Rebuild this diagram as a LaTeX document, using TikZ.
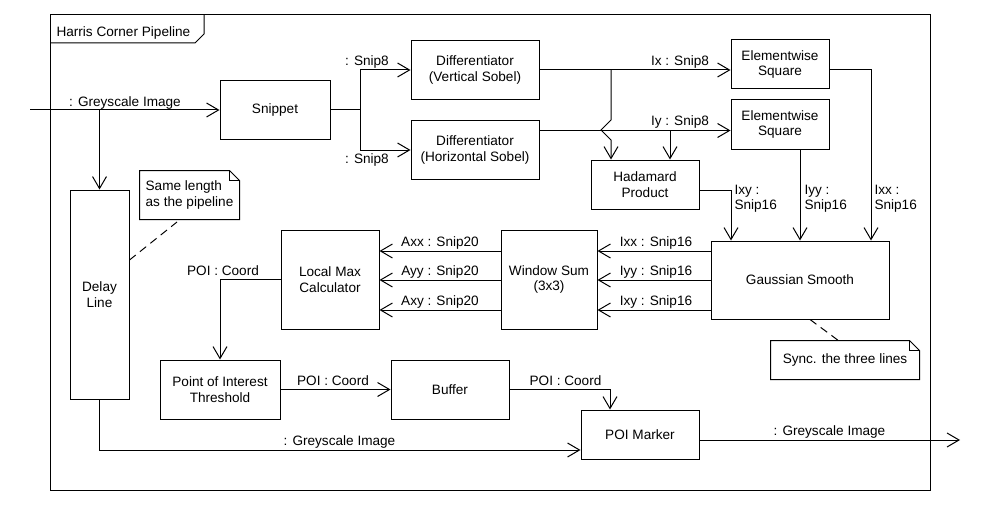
\documentclass[tikz,border=0pt]{standalone}
\usepackage{fontspec}
\setmainfont{Liberation Sans}
\usetikzlibrary{arrows.meta}

\def\px{0.75pt}
\newcommand{\dogear}[1]{%
  \draw (#1.north west) -- ([xshift=-7.5pt]#1.north east) -- ([yshift=-7.5pt]#1.north east)
    -- (#1.south east) -- (#1.south west) -- cycle;
  \draw ([xshift=-7.5pt]#1.north east) |- ([yshift=-7.5pt]#1.north east);}

\tikzset{
  block/.style={draw, align=center},
  memo/.style={align=left},
  lbl/.style={inner sep=0pt, anchor=base},
  lbltwo/.style={inner sep=0pt, anchor=north west, align=left},
  flow/.style={-{Straight Barb[length=9pt,width=10.5pt]}},
  comment/.style={dash pattern=on 6pt off 4pt}
}

\begin{document}
\begin{tikzpicture}[x=0.75pt, y=-0.75pt, line width=0.75pt,
    font=\fontsize{10.2}{11.5}\selectfont]
    \useasboundingbox (0,0) rectangle (1000,510);

    % Rahmen
    \draw (50,15) rectangle (930,490);
    \draw (50,43) -- (195,43) -- (204,34) -- (204,15);
    \node[lbl, anchor=base west] (title) at (56,37) {Harris Corner Pipeline};

    % Bloecke
    \node[block, minimum width=110*\px, minimum height=58*\px] (snip) at (275,110) {Snippet};
    \node[block, minimum width=128*\px, minimum height=59*\px] (dv) at (475,70) {Differentiator\\(Vertical Sobel)};
    \node[block, minimum width=128*\px, minimum height=59*\px] (dh) at (475,150) {Differentiator\\(Horizontal Sobel)};
    \node[block, minimum width=98*\px, minimum height=49*\px] (esx) at (780,64.5) {Elementwise\\Square};
    \node[block, minimum width=98*\px, minimum height=49*\px] (esy) at (780,124.5) {Elementwise\\Square};
    \node[block, minimum width=108*\px, minimum height=49*\px] (hada) at (645,184.5) {Hadamard\\Product};
    \node[block, minimum width=178*\px, minimum height=78*\px] (gauss) at (800,280) {Gaussian Smooth};
    \node[block, minimum width=96*\px, minimum height=99*\px] (win) at (549,279.5) {Window Sum\\(3x3)};
    \node[block, minimum width=98*\px, minimum height=99*\px] (lmax) at (330,279.5) {Local Max\\Calculator};
    \node[block, minimum width=120*\px, minimum height=59*\px] (thr) at (220,389.5) {Point of Interest\\Threshold};
    \node[block, minimum width=118*\px, minimum height=59*\px] (buf) at (450,389.5) {Buffer};
    \node[block, minimum width=118*\px, minimum height=49*\px] (mark) at (640,434.5) {POI Marker};
    \node[block, minimum width=59*\px, minimum height=209*\px] (delay) at (99.5,294.5) {Delay\\Line};

    % Notizen
    \node[memo, minimum width=99*\px, minimum height=48*\px] (memoa) at (189.5,195) {Same length\\as the pipeline};
    \dogear{memoa}
    \node[memo, minimum width=148*\px, minimum height=38*\px] (memob) at (845,360) {Sync. the three lines};
    \dogear{memob}
    \coordinate (memoaend) at (177,222);
    \draw[comment] (delay.east |- 0,260) -- (memoaend);
    \draw[comment] ([xshift=7.5pt]gauss.south) -- ([xshift=-5pt]memob.north);

    % Eingang
    \coordinate (in) at (30,110);
    \draw[flow] (in) -- (snip.west);
    \node[lbl] (lin) at (125,107) {: Greyscale Image};
    \draw[flow] (delay.north |- in) -- (delay.north);

    % Ableitungen
    \coordinate (split) at (360,110);
    \draw (snip.east) -- (split);
    \draw[flow] (split) |- (dv.west);
    \draw[flow] (split) |- (dh.west);
    \node[lbl] (lsa) at (367,65) {: Snip8};
    \node[lbl] (lsb) at (367,163) {: Snip8};

    % Ix und Iy
    \coordinate (ixj) at (611,70);
    \coordinate (iyj) at (670,130.5);
    \coordinate (iyout) at (dh.east |- iyj);
    \draw[flow] (dv.east) -- (esx.west |- dv.east);
    \draw[flow] (iyout) -- (esy.west |- iyout);
    \draw[flow] (ixj) -- ++(0,50) -- ++(-10,10) -- ++(10,10) -- (ixj |- hada.north);
    \draw[flow] (iyj) -- (iyj |- hada.north);
    \node[lbl] (lix) at (680,66) {Ix : Snip8};
    \node[lbl] (liy) at (680,126) {Iy : Snip8};

    % Produkte zur Glaettung
    \coordinate (hxy) at (731,190);
    \coordinate (hxx) at (871,70);
    \draw[flow] (hada.east |- hxy) -- (hxy) -- (hxy |- gauss.north);
    \draw[flow] (esy.south -| gauss.north) -- (gauss.north);
    \draw[flow] (esx.east |- hxx) -- (hxx) -- (hxx |- gauss.north);
    \node[lbltwo] (lhxy) at (734,184.5) {Ixy :\\Snip16};
    \node[lbltwo] (lhyy) at (804,184.5) {Iyy :\\Snip16};
    \node[lbltwo] (lhxx) at (874,184.5) {Ixx :\\Snip16};

    % Drei Leitungen
    \foreach \y/\sig/\acc in {251/Ixx/Axx, 280/Iyy/Ayy, 310/Ixy/Axy} {
        \draw[flow] (gauss.west |- 0,\y) -- (win.east |- 0,\y);
        \draw[flow] (win.west |- 0,\y) -- (lmax.east |- 0,\y);
        \node[lbl] (l\sig) at (656,{\y-5}) {\sig{} : Snip16};
        \node[lbl] (l\acc) at (440,{\y-5}) {\acc{} : Snip20};
    }

    % Punkte
    \draw[flow] (lmax.west) -| (thr.north);
    \node[lbl] (lpa) at (223,275) {POI : Coord};
    \draw[flow] (thr.east) -- (buf.west);
    \node[lbl] (lpb) at (333,385) {POI : Coord};
    \coordinate (pj) at (610,389.5);
    \draw[flow] (buf.east) -- (pj) -- (pj |- mark.north);
    \node[lbl] (lpc) at (565.5,385) {POI : Coord};

    % Ausgang
    \draw[flow] (delay.south) |- (mark.west |- 0,450);
    \node[lbl] (lgb) at (339.5,445) {: Greyscale Image};
    \coordinate (out) at (960,440);
    \draw[flow] (mark.east |- out) -- (out);
    \node[lbl] (lgc) at (829.5,435) {: Greyscale Image};
\end{tikzpicture}
\end{document}
